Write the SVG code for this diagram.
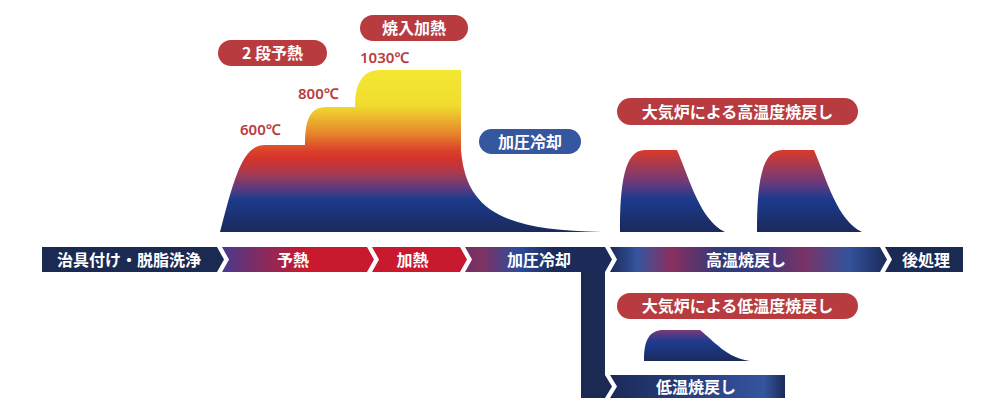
<svg xmlns="http://www.w3.org/2000/svg" width="1000" height="414" viewBox="0 0 1000 414">
  <defs>
    <linearGradient id="gMain" gradientUnits="userSpaceOnUse" x1="0" y1="70" x2="0" y2="232">
      <stop offset="0" stop-color="#f3e733"/>
      <stop offset="0.22" stop-color="#f1dc2e"/>
      <stop offset="0.37" stop-color="#e8922c"/>
      <stop offset="0.5" stop-color="#db402a"/>
      <stop offset="0.55" stop-color="#d6322c"/>
      <stop offset="0.64" stop-color="#a63a52"/>
      <stop offset="0.72" stop-color="#663a7c"/>
      <stop offset="0.80" stop-color="#1c3a8c"/>
      <stop offset="1" stop-color="#1b2a5c"/>
    </linearGradient>
    <linearGradient id="gHump" gradientUnits="userSpaceOnUse" x1="0" y1="150" x2="0" y2="232">
      <stop offset="0" stop-color="#da3a2a"/>
      <stop offset="0.4" stop-color="#6a3a7c"/>
      <stop offset="0.6" stop-color="#1c3a8c"/>
      <stop offset="1" stop-color="#1b2a5c"/>
    </linearGradient>
    <linearGradient id="gLow" gradientUnits="userSpaceOnUse" x1="0" y1="330" x2="0" y2="361">
      <stop offset="0" stop-color="#7a3a7a"/>
      <stop offset="0.3" stop-color="#2e3a8c"/>
      <stop offset="0.45" stop-color="#1c3a8c"/>
      <stop offset="1" stop-color="#1b2a5c"/>
    </linearGradient>
    <linearGradient id="gPre" gradientUnits="userSpaceOnUse" x1="222" y1="0" x2="374" y2="0">
      <stop offset="0" stop-color="#4a3a8c"/>
      <stop offset="0.55" stop-color="#c8192f"/>
      <stop offset="1" stop-color="#c8192f"/>
    </linearGradient>
    <linearGradient id="gCool" gradientUnits="userSpaceOnUse" x1="465" y1="0" x2="612" y2="0">
      <stop offset="0" stop-color="#743262"/>
      <stop offset="0.12" stop-color="#7e3262"/>
      <stop offset="0.36" stop-color="#2d4d9c"/>
      <stop offset="0.6" stop-color="#1b2a58"/>
      <stop offset="1" stop-color="#1b2a58"/>
    </linearGradient>
    <linearGradient id="gHigh" gradientUnits="userSpaceOnUse" x1="610" y1="0" x2="887" y2="0">
      <stop offset="0" stop-color="#1b2a5a"/>
      <stop offset="0.1" stop-color="#35559e"/>
      <stop offset="0.22" stop-color="#8a2f5e"/>
      <stop offset="0.4" stop-color="#2e3a7a"/>
      <stop offset="0.55" stop-color="#3a3a80"/>
      <stop offset="0.7" stop-color="#7a3266"/>
      <stop offset="0.86" stop-color="#34539c"/>
      <stop offset="1" stop-color="#1b2a5a"/>
    </linearGradient>
    <linearGradient id="gLowBar" gradientUnits="userSpaceOnUse" x1="610" y1="0" x2="785" y2="0">
      <stop offset="0" stop-color="#1b2a5a"/>
      <stop offset="0.7" stop-color="#2f4a90"/>
      <stop offset="0.88" stop-color="#35559e"/>
      <stop offset="1" stop-color="#1b2a5a"/>
    </linearGradient>
  </defs>
  <style>
    .navy { fill: #1b2a52; }
    .pillR { fill: #b83b3f; }
    .pillB { fill: #3557a0; }
    .lbl { font-family: "Noto Sans CJK JP", "Noto Sans", sans-serif; font-weight: 700; font-size: 16px; fill: #ffffff; text-anchor: middle; }
    .temp { font-family: "Noto Sans", "Noto Sans CJK JP", sans-serif; font-weight: 600; font-size: 15px; fill: #b83b3f; }
  </style>
  <rect width="1000" height="414" fill="#ffffff"/>

  <!-- heat curves -->
  <g id="curve-main">
    <path fill="url(#gMain)" d="M220,232 C235,175 243,145 265,145 L305,145 C305,122 309,107 326,107 L355,107 C355,86 361,70 380,70 L461,70 L461,150 C466,215 510,230 602,232 Z"/>
  </g>
  <g id="curve-high">
    <path fill="url(#gHump)" d="M620,232 C620,185 624,150 645,150 L677,150 C690,180 700,220 725,232 Z"/>
    <path fill="url(#gHump)" d="M757,232 C757,185 761,150 782,150 L814,150 C827,180 837,220 862,232 Z"/>
  </g>
  <g id="curve-low">
    <path fill="url(#gLow)" d="M644,361 C644,340 649,330 664,330 L700,330 C715,342 727,358 750,361 Z"/>
  </g>

  <!-- temperature labels -->
  <g id="temps">
    <text class="temp" x="240" y="135">600℃</text>
    <text class="temp" x="298" y="99">800℃</text>
    <text class="temp" x="360" y="63">1030℃</text>
  </g>

  <!-- pills -->
  <g id="pill-preheat">
    <rect class="pillR" x="218" y="40" width="109" height="26" rx="13"/>
    <text class="lbl" x="272.5" y="59">2 段予熱</text>
  </g>
  <g id="pill-quench">
    <rect class="pillR" x="360" y="15" width="108" height="26" rx="13"/>
    <text class="lbl" x="414" y="34">焼入加熱</text>
  </g>
  <g id="pill-cool">
    <rect class="pillB" x="479" y="129" width="102" height="25" rx="12.5"/>
    <text class="lbl" x="530" y="147.5">加圧冷却</text>
  </g>
  <g id="pill-high">
    <rect class="pillR" x="617" y="98" width="241" height="27" rx="13.5"/>
    <text class="lbl" x="737.5" y="117.5">大気炉による高温度焼戻し</text>
  </g>
  <g id="pill-low">
    <rect class="pillR" x="617" y="293" width="241" height="26" rx="13"/>
    <text class="lbl" x="737.5" y="312">大気炉による低温度焼戻し</text>
  </g>

  <!-- process bar -->
  <g id="step-wash">
    <path class="navy" d="M42,247 L217,247 L224,259.5 L217,272 L42,272 Z"/>
    <text class="lbl" x="129" y="265.5">治具付け・脱脂洗浄</text>
  </g>
  <g id="step-preheat">
    <path fill="url(#gPre)" d="M222,247 L367,247 L374,259.5 L367,272 L222,272 L229,259.5 Z"/>
    <text class="lbl" x="293" y="265.5">予熱</text>
  </g>
  <g id="step-heat">
    <path fill="#c8192f" d="M372,247 L460,247 L467,259.5 L460,272 L372,272 L379,259.5 Z"/>
    <text class="lbl" x="412.5" y="265.5">加熱</text>
  </g>
  <g id="step-cool">
    <path fill="url(#gCool)" d="M465,247 L605,247 L612,259.5 L605,272 L465,272 L472,259.5 Z"/>
    <text class="lbl" x="539" y="265.5">加圧冷却</text>
  </g>
  <g id="step-high">
    <path fill="url(#gHigh)" d="M610,247 L880,247 L887,259.5 L880,272 L610,272 L617,259.5 Z"/>
    <text class="lbl" x="746" y="265.5">高温焼戻し</text>
  </g>
  <g id="step-post">
    <path class="navy" d="M885,247 L963,247 L963,272 L885,272 L892,259.5 Z"/>
    <text class="lbl" x="926" y="265.5">後処理</text>
  </g>
  <g id="step-low">
    <path fill="url(#gLowBar)" d="M610,375 L785,375 L785,398 L610,398 L617,386.5 Z"/>
    <text class="lbl" x="696" y="392.5">低温焼戻し</text>
  </g>

  <!-- connectors -->
  <g id="connectors">
    <path class="navy" d="M581,271 L605,271 L605,375 L612,386.5 L605,398 L581,398 Z"/>
  </g>
</svg>
